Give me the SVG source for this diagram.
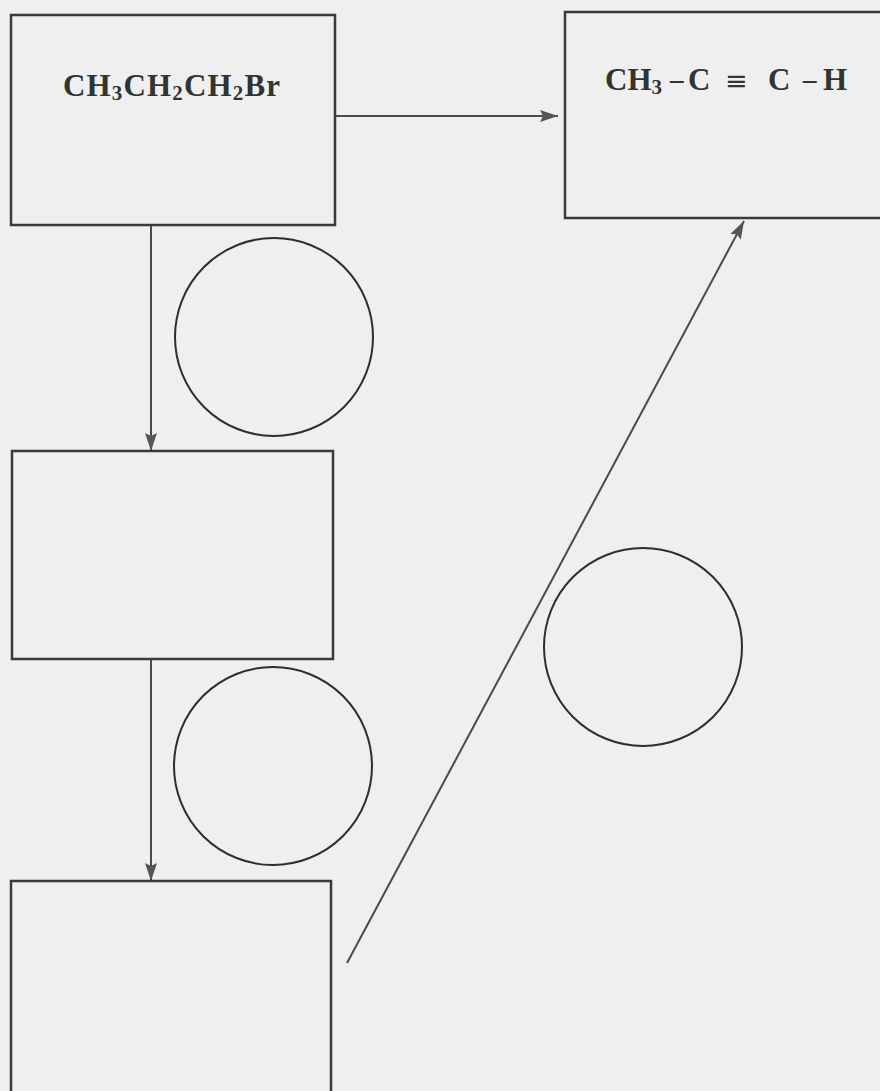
<svg xmlns="http://www.w3.org/2000/svg" width="880" height="1091" viewBox="0 0 880 1091">
<defs>
<style>
.box{fill:none;stroke:#3a3a3a;stroke-width:2.5}
.circ{fill:none;stroke:#2e2e2e;stroke-width:2}
.edge{fill:none;stroke:#4a4a4a;stroke-width:2}
.lbl{font-family:"Liberation Serif",serif;font-weight:bold;font-size:31px;fill:#333}
.sub{font-size:21px}
.dash{font-size:27px}
.sym{font-family:"DejaVu Sans",sans-serif;font-weight:normal;font-size:27px}
</style>
<marker id="ah" viewBox="0 0 18 12" refX="18" refY="6" markerWidth="18" markerHeight="12" markerUnits="userSpaceOnUse" orient="auto">
<path d="M0,0 L18,6 L0,12 L3,6 Z" fill="#555"/>
</marker>
</defs>
<rect width="880" height="1091" fill="#efefef"/>
<g id="connectors">
<line class="edge" x1="335" y1="116" x2="558" y2="116" marker-end="url(#ah)"/>
<line class="edge" x1="151" y1="225" x2="151" y2="451" marker-end="url(#ah)"/>
<line class="edge" x1="151" y1="659" x2="151" y2="881" marker-end="url(#ah)"/>
<line class="edge" x1="347" y1="963" x2="744" y2="221" marker-end="url(#ah)"/>
</g>
<g id="node-propyl-bromide">
<rect class="box" x="11" y="15" width="324" height="210"/>
<text class="lbl" x="63" y="96" textLength="217" lengthAdjust="spacing">CH<tspan class="sub" dy="4">3</tspan><tspan dy="-4">CH</tspan><tspan class="sub" dy="4">2</tspan><tspan dy="-4">CH</tspan><tspan class="sub" dy="4">2</tspan><tspan dy="-4">Br</tspan></text>
</g>
<g id="node-propyne">
<rect class="box" x="565" y="12" width="320" height="206"/>
<text class="lbl" x="605" y="90">CH<tspan class="sub" dy="4">3</tspan><tspan class="dash" x="670" dy="-6">–</tspan><tspan x="688" dy="2">C</tspan><tspan class="sym" x="725">≡</tspan><tspan x="768">C</tspan><tspan class="dash" x="803" dy="-2">–</tspan><tspan x="823" dy="2">H</tspan></text>
</g>
<g id="node-box3">
<rect class="box" x="12" y="451" width="321" height="208"/>
</g>
<g id="node-box4">
<rect class="box" x="11" y="881" width="320" height="220"/>
</g>
<g id="node-circle1"><circle class="circ" cx="274" cy="337" r="99"/></g>
<g id="node-circle2"><circle class="circ" cx="273" cy="766" r="99"/></g>
<g id="node-circle3"><circle class="circ" cx="643" cy="647" r="99"/></g>
</svg>
